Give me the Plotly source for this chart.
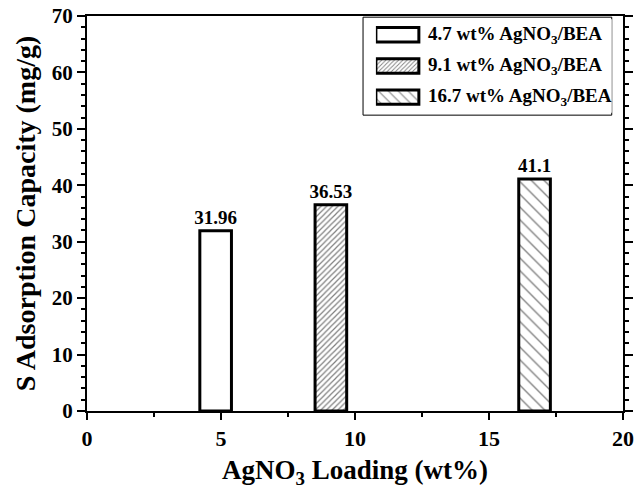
import plotly.graph_objects as go

names = ["4.7 wt% AgNO<sub>3</sub>/BEA", "9.1 wt% AgNO<sub>3</sub>/BEA", "16.7 wt% AgNO<sub>3</sub>/BEA"]
x_load = [4.8, 9.1, 16.7]
capacity = [31.96, 36.53, 41.1]
labels = ["31.96", "36.53", "41.1"]
patterns = ["", "/", "\\"]
pat_sizes = [8, 4, 9]
pat_solid = [0.2, 0.3, 0.15]

FONT = "Liberation Serif"
BLACK = "black"

fig = go.Figure()
for n, xv, yv, lb, ps, sz, so in zip(names, x_load, capacity, labels, patterns, pat_sizes, pat_solid):
    fig.add_trace(go.Bar(
        x=[xv], y=[yv], name=n, width=1.18, showlegend=False,
        text=[lb], texttemplate="<b>%{text}</b>", textposition="outside", constraintext="none",
        textfont=dict(family=FONT, size=19, color=BLACK),
        marker=dict(color="white", line=dict(color=BLACK, width=3),
                    pattern=dict(shape=ps, size=sz, solidity=so, fgcolor=BLACK, bgcolor="white")),
        cliponaxis=False,
    ))

# manual legend (patches drawn as bars on a small helper axis)
for n, ps, sz, so in zip(names, patterns, pat_sizes, pat_solid):
    fig.add_trace(go.Bar(
        y=[n], x=[1], base=0, orientation="h", width=0.46, showlegend=False,
        xaxis="x2", yaxis="y2", hoverinfo="skip",
        marker=dict(color="white", line=dict(color=BLACK, width=3),
                    pattern=dict(shape=ps, size=max(sz - 2, 3), solidity=so, fgcolor=BLACK, bgcolor="white")),
    ))
    fig.add_annotation(x=1.16, y=n, xref="x2", yref="y2", text="<b>" + n + "</b>",
                       showarrow=False, xanchor="left", yanchor="middle",
                       font=dict(family=FONT, size=19, color=BLACK))

fig.add_shape(type="rect", xref="paper", yref="paper", x0=0.515, x1=0.979, y0=0.749, y1=0.997,
              line=dict(color=BLACK, width=1), fillcolor="rgba(0,0,0,0)", layer="below")

fig.update_layout(
    width=635, height=497,
    margin=dict(l=87, r=12, t=16, b=86),
    plot_bgcolor="white", paper_bgcolor="white",
    font=dict(family=FONT, color=BLACK),
    barmode="overlay",
    showlegend=False,
    xaxis=dict(range=[0, 20], dtick=5, tick0=0, showgrid=False, zeroline=False, automargin=False,
               showline=True, linecolor=BLACK, linewidth=2, mirror=True,
               ticks="outside", ticklen=7, tickwidth=2, tickcolor=BLACK,
               tickprefix="<b>", ticksuffix="</b>",
               tickfont=dict(family=FONT, size=22, color=BLACK),
               minor=dict(dtick=2.5, ticks="outside", ticklen=4, tickcolor=BLACK, tickwidth=1.5),
               title=dict(text="<b>AgNO<sub>3</sub> Loading (wt%)</b>", font=dict(family=FONT, size=27, color=BLACK), standoff=10)),
    yaxis=dict(range=[0, 70], dtick=10, tick0=0, showgrid=False, zeroline=False, automargin=False,
               showline=True, linecolor=BLACK, linewidth=2, mirror="ticks",
               ticks="outside", ticklen=8, tickwidth=2, tickcolor=BLACK,
               tickprefix="<b>", ticksuffix="</b>",
               tickfont=dict(family=FONT, size=21, color=BLACK),
               minor=dict(dtick=2, ticks="outside", ticklen=4, tickcolor=BLACK, tickwidth=1.5),
               title=dict(text="<b>S Adsorption Capacity (mg/g)</b>", font=dict(family=FONT, size=28, color=BLACK), standoff=8)),
    xaxis2=dict(domain=[0.539, 0.979], range=[0, 5.49], visible=False, anchor="y2", fixedrange=True),
    yaxis2=dict(domain=[0.755, 0.992], autorange="reversed", type="category", visible=False,
                anchor="x2", fixedrange=True),
)

fig.write_html("out.html", config={"displayModeBar": False},
               post_script="document.body.style.margin='0';document.body.style.padding='0';")
